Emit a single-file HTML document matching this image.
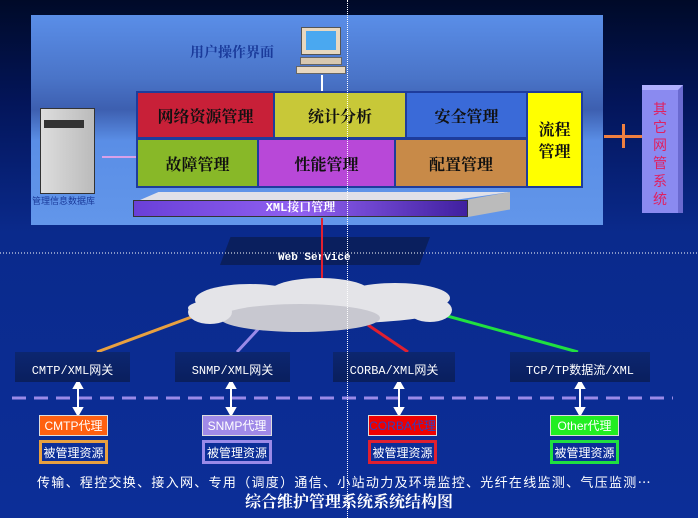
<!DOCTYPE html>
<html><head><meta charset="utf-8"><style>
*{margin:0;padding:0;box-sizing:border-box}
body{width:698px;height:518px;overflow:hidden;position:relative;font-family:"Liberation Sans","Noto Serif CJK SC","Noto Sans CJK SC",sans-serif;
background:linear-gradient(180deg,#000a28 0%,#03155a 20%,#0a2a8c 45%,#0c2e98 100%);}
.a{position:absolute}
.panel{left:31px;top:15px;width:572px;height:210px;background:linear-gradient(180deg,#5a8ee8 0%,#4a74c8 30%,#3d5fb0 45%,#5a8ee6 60%,#6296ea 100%)}
.b{position:absolute;border:2px solid #1e3c9c;display:flex;align-items:center;justify-content:center;font-family:"Noto Serif CJK SC",serif;font-weight:bold;font-size:16px;color:#111}
.gw{position:absolute;height:30px;background:linear-gradient(180deg,#0c2670,#0a1f5e);color:#fff;font-family:"Liberation Mono","Noto Sans CJK SC",monospace;font-size:12px;display:flex;align-items:flex-end;justify-content:center;padding-bottom:4px;white-space:nowrap}
.ag{position:absolute;height:21px;display:flex;align-items:center;justify-content:center;font-size:12px;color:#fff;font-family:"Liberation Sans","Noto Sans CJK SC",sans-serif;border:1px solid #ddd;white-space:nowrap}
.rs{position:absolute;height:24px;display:flex;align-items:center;justify-content:center;font-size:12px;color:#fff;border:3px solid;background:#0c2e98;font-family:"Noto Sans CJK SC",sans-serif;white-space:nowrap}
</style></head><body>
<div class="a panel"></div>
<div class="a" style="left:190px;top:42px;color:#1a3a9a;font-weight:bold;font-size:14px;font-family:'Noto Serif CJK SC',serif">用户操作界面</div>
<div class="a" style="left:301px;top:27px;width:40px;height:28px;background:#e8d8c0;border:1px solid #555"></div>
<div class="a" style="left:306px;top:31px;width:30px;height:19px;background:#4aa8f0"></div>
<div class="a" style="left:300px;top:57px;width:42px;height:8px;background:#d8c8b0;border:1px solid #666"></div>
<div class="a" style="left:296px;top:66px;width:50px;height:8px;background:#e8d8c0;border:1px solid #666"></div>
<div class="a" style="left:321px;top:75px;width:2px;height:16px;background:#fff"></div>
<div class="a" style="left:40px;top:108px;width:55px;height:86px;background:linear-gradient(90deg,#ddd,#bbb);border:1px solid #333"></div>
<div class="a" style="left:44px;top:120px;width:40px;height:8px;background:#333"></div>
<div class="a" style="left:32px;top:194px;color:#1a3a9a;font-size:9px;font-family:'Noto Sans CJK SC',sans-serif">管理信息数据库</div>
<div class="a" style="left:102px;top:156px;width:34px;height:2px;background:#d8a0e8"></div>
<div class="b" style="left:136px;top:91px;width:139px;height:48px;background:#c82038">网络资源管理</div>
<div class="b" style="left:273px;top:91px;width:134px;height:48px;background:#c8c838">统计分析</div>
<div class="b" style="left:405px;top:91px;width:123px;height:48px;background:#3a6ad8">安全管理</div>
<div class="b" style="left:526px;top:91px;width:57px;height:97px;background:#ffff00;line-height:22px;text-align:center">流程<br>管理</div>
<div class="b" style="left:136px;top:138px;width:123px;height:50px;background:#88b828">故障管理</div>
<div class="b" style="left:257px;top:138px;width:139px;height:50px;background:#b848d8">性能管理</div>
<div class="b" style="left:394px;top:138px;width:134px;height:50px;background:#c88a48">配置管理</div>
<div class="a" style="left:140px;top:192px;width:370px;height:8px;background:#e0e0e8;clip-path:polygon(5% 0,100% 0,85% 100%,0 100%)"></div>
<div class="a" style="left:133px;top:200px;width:335px;height:17px;background:linear-gradient(90deg,#6a40d8,#9060f0,#4020a0);border:1px solid #333;color:#fff;font-weight:bold;font-size:12px;text-align:center;font-family:'Liberation Mono','Noto Serif CJK SC',monospace;line-height:15px">XML接口管理</div>
<div class="a" style="left:468px;top:192px;width:42px;height:25px;background:#bbb;clip-path:polygon(0 30%,100% 0,100% 70%,0 100%)"></div>
<div class="a" style="left:604px;top:135px;width:38px;height:3px;background:#f08040"></div>
<div class="a" style="left:622px;top:124px;width:3px;height:24px;background:#f08040"></div>
<div class="a" style="left:642px;top:85px;width:41px;height:128px;background:#8a8af0;border-right:5px solid #6a6ad0;border-top:5px solid #b0b0ff;color:#e02060;font-size:14px;text-align:center;line-height:18px;padding-top:10px;font-family:'Noto Sans CJK SC',sans-serif">其<br>它<br>网<br>管<br>系<br>统</div>
<div class="a" style="left:220px;top:237px;width:210px;height:28px;background:#0a1f5e;clip-path:polygon(5% 0,100% 0,95% 100%,0 100%)"></div>
<div class="a" style="left:278px;top:252px;color:#fff;font-weight:bold;font-size:11px;font-family:'Liberation Mono',monospace">Web Service</div>
<svg class="a" style="left:0;top:0" width="698" height="518">
<line x1="0" y1="253" x2="698" y2="253" stroke="#fff" stroke-dasharray="1 2" stroke-width="1"/>
<line x1="322" y1="218" x2="322" y2="290" stroke="#e02030" stroke-width="2"/>
<line x1="97" y1="352" x2="197" y2="315" stroke="#e8a040" stroke-width="3"/>
<line x1="237" y1="352" x2="262" y2="325" stroke="#9a8ae8" stroke-width="3"/>
<line x1="408" y1="352" x2="368" y2="325" stroke="#e02030" stroke-width="3"/>
<line x1="578" y1="352" x2="440" y2="314" stroke="#20e040" stroke-width="3"/>
<g fill="#e4e4e8">
<ellipse cx="318" cy="308" rx="130" ry="16"/>
<ellipse cx="250" cy="300" rx="55" ry="16"/>
<ellipse cx="320" cy="292" rx="50" ry="14"/>
<ellipse cx="395" cy="298" rx="55" ry="15"/>
<ellipse cx="300" cy="318" rx="80" ry="14" fill="#c8c8d0"/>
<ellipse cx="210" cy="312" rx="22" ry="12"/>
<ellipse cx="430" cy="310" rx="22" ry="12"/>
</g>
<line x1="12" y1="398" x2="673" y2="398" stroke="#9a8ae8" stroke-width="3" stroke-dasharray="14 8"/>
<g stroke="#fff" stroke-width="2" fill="#fff">
<line x1="78" y1="386" x2="78" y2="410"/><line x1="231" y1="386" x2="231" y2="410"/><line x1="399" y1="386" x2="399" y2="410"/><line x1="580" y1="386" x2="580" y2="410"/>
<path d="M74 388 L78 381 L82 388Z M74 408 L78 415 L82 408Z M227 388 L231 381 L235 388Z M227 408 L231 415 L235 408Z M395 388 L399 381 L403 388Z M395 408 L399 415 L403 408Z M576 388 L580 381 L584 388Z M576 408 L580 415 L584 408Z"/>
</g>
</svg>
<div class="gw" style="left:15px;top:352px;width:115px">CMTP/XML网关</div>
<div class="gw" style="left:175px;top:352px;width:115px">SNMP/XML网关</div>
<div class="gw" style="left:333px;top:352px;width:122px">CORBA/XML网关</div>
<div class="gw" style="left:510px;top:352px;width:140px">TCP/TP数据流/XML</div>
<div class="ag" style="left:39px;top:415px;width:69px;background:#ff6010">CMTP代理</div>
<div class="ag" style="left:202px;top:415px;width:70px;background:#a08ae8">SNMP代理</div>
<div class="ag" style="left:368px;top:415px;width:69px;background:#ee0000;color:#3040c0">CORBA代理</div>
<div class="ag" style="left:550px;top:415px;width:69px;background:#22ee22">Other代理</div>
<div class="rs" style="left:39px;top:440px;width:69px;border-color:#e8a040">被管理资源</div>
<div class="rs" style="left:202px;top:440px;width:70px;border-color:#9a8ae8">被管理资源</div>
<div class="rs" style="left:368px;top:440px;width:69px;border-color:#e02030">被管理资源</div>
<div class="rs" style="left:550px;top:440px;width:69px;border-color:#20e040">被管理资源</div>
<div class="a" style="left:37px;top:472px;color:#fff;font-size:13px;letter-spacing:1.3px;white-space:nowrap;font-family:'Noto Sans CJK SC',sans-serif">传输、程控交换、接入网、专用（调度）通信、小站动力及环境监控、光纤在线监测、气压监测…</div>
<div class="a" style="left:0;width:698px;top:489px;text-align:center;color:#fff;font-weight:bold;font-size:16px;font-family:'Noto Serif CJK SC',serif">综合维护管理系统系统结构图</div>
<div class="a" style="left:347px;top:0;width:0;height:518px;border-left:1px dotted #fff"></div>
</body></html>
